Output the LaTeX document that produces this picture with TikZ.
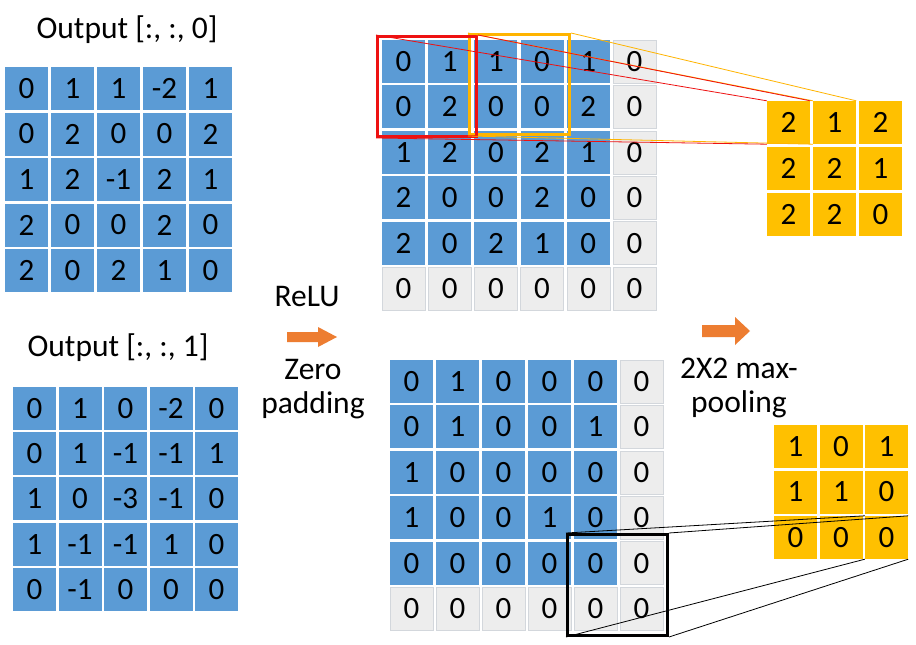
\documentclass[tikz,border=0pt]{standalone}
\usepackage{fontspec}
\setmainfont{Carlito}
\definecolor{cblue}{HTML}{5B9BD5}
\definecolor{cgrey}{HTML}{EDEDED}
\definecolor{cgreyl}{HTML}{D3D7DC}
\definecolor{cyel}{HTML}{FFC000}
\definecolor{corg}{HTML}{ED7D31}
\definecolor{cred}{HTML}{EE1111}
\definecolor{cbox}{HTML}{FFB400}
\newcommand\mygrid[7]{%
  \foreach \rw [count=\r from 0] in {#6} {
    \foreach \v [count=\c from 0] in \rw {
      \pgfmathtruncatemacro\isg{(\c==5)||(\r==5)}
      \ifnum\isg=1
        \node[gcell] (#1-\r-\c) at ({#2+#4*\c},{#3+#5*\r}) {\v};
      \else
        \node[#7] (#1-\r-\c) at ({#2+#4*\c},{#3+#5*\r}) {\v};
      \fi
    }
  }%
}
\begin{document}
\begin{tikzpicture}[x=1pt,y=-1pt,
  cell/.style={rectangle, minimum width=43pt, minimum height=43pt, inner sep=0pt, font=\fontsize{31}{32}\selectfont},
  bcell/.style={cell, fill=cblue},
  gcell/.style={cell, fill=cgrey, draw=cgreyl, line width=0.6pt},
  ycell/.style={cell, fill=cyel},
  lbl/.style={font=\fontsize{31.5}{34}\selectfont, align=center, inner sep=0pt},
  hbox/.style={rectangle, line width=3pt, inner sep=0pt},
  thin/.style={line width=0.8pt},
  blockarrow/.style={fill=corg}
]
\useasboundingbox[fill=white] (0,0) rectangle (916,645);

% titles
\node[lbl] (t0) at (127,30) {Output [:, :, 0]};
\node[lbl] (t1) at (118,348) {Output [:, :, 1]};

% input matrices
\mygrid{A}{26.5}{88.5}{46}{45.5}{{0,1,1,-2,1},{0,2,0,0,2},{1,2,-1,2,1},{2,0,0,2,0},{2,0,2,1,0}}{bcell}
\mygrid{B}{34.5}{408.5}{45.5}{45.2}{{0,1,0,-2,0},{0,1,-1,-1,1},{1,0,-3,-1,0},{1,-1,-1,1,0},{0,-1,0,0,0}}{bcell}

% padded matrices
\mygrid{P}{403.5}{61.5}{46.2}{45.4}{{0,1,1,0,1,0},{0,2,0,0,2,0},{1,2,0,2,1,0},{2,0,0,2,0,0},{2,0,2,1,0,0},{0,0,0,0,0,0}}{bcell}
\mygrid{Q}{411.5}{381.5}{46}{45.4}{{0,1,0,0,0,0},{0,1,0,0,1,0},{1,0,0,0,0,0},{1,0,0,1,0,0},{0,0,0,0,0,0},{0,0,0,0,0,0}}{bcell}

% pooled matrices
\mygrid{R}{788.5}{122.5}{46}{46}{{2,1,2},{2,2,1},{2,2,0}}{ycell}
\mygrid{S}{795.5}{446.5}{45.5}{45.5}{{1,0,1},{1,1,0},{0,0,0}}{ycell}

% labels and arrows
\node[lbl] (relu) at (307,297) {ReLU};
\node[lbl] (zp) at (313,389) {Zero\\padding};
\fill[blockarrow] (287,332) -- (318,332) -- (318,327) -- (337,337) -- (318,347) -- (318,342) -- (287,342) -- cycle;
\node[lbl] (mp) at (739,388) {2X2 max-\\pooling};
\fill[blockarrow] (702,325) -- (735,325) -- (735,317) -- (750,331) -- (735,345) -- (735,337) -- (702,337) -- cycle;

% highlight boxes
\node[hbox, draw=cbox, minimum width=100pt, minimum height=100pt] (obox) at (519.5,84.5) {};
\node[hbox, draw=cred, minimum width=99pt, minimum height=100pt] (rbox) at (427,86.5) {};
\node[hbox, draw=black, minimum width=100pt, minimum height=101pt] (kbox) at (617.5,585) {};

% connectors
\draw[thin, draw=cbox] (obox.north west) -- (R-0-1.north west);
\draw[thin, draw=cbox] (obox.north east) -- (R-0-1.north east);
\draw[thin, draw=cbox] (obox.south west) -- (R-0-1.south west);
\draw[thin, draw=cred] (rbox.north west) -- (R-0-0.north west);
\draw[thin, draw=cred] (rbox.north east) -- (R-0-0.north east);
\draw[thin, draw=cred] (rbox.south west) -- (R-0-0.south west);
\draw[thin] (kbox.north west) -- (S-2-2.north west);
\draw[thin] (kbox.north east) -- (S-2-2.north east);
\draw[thin] (kbox.south west) -- (S-2-2.south west);
\draw[thin] (kbox.south east) -- (S-2-2.south east);
\end{tikzpicture}
\end{document}
